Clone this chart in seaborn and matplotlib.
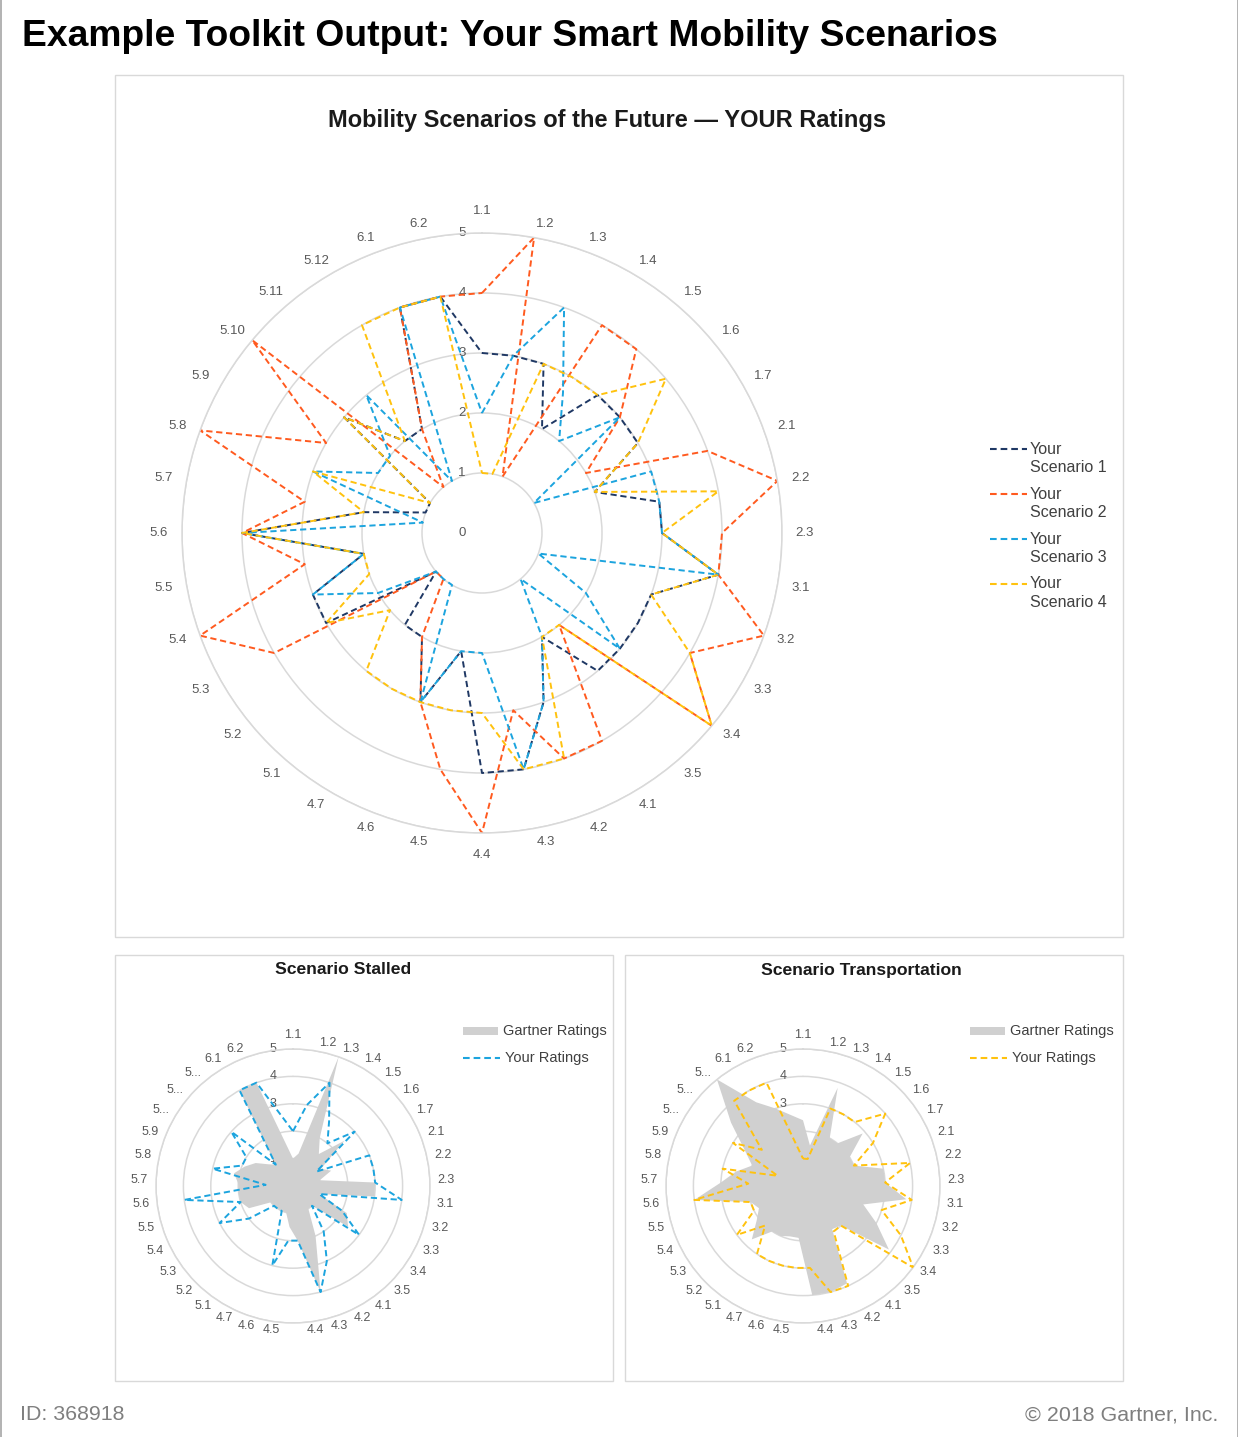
import numpy as np
import pandas as pd
import matplotlib
matplotlib.use("Agg")
import matplotlib.pyplot as plt
import matplotlib.transforms as mtransforms
from matplotlib.lines import Line2D
from matplotlib.patches import Rectangle
import seaborn as sns

sns.set_theme(style="white")
plt.rcParams["font.family"] = ["Liberation Sans", "DejaVu Sans"]

# ---------------------------------------------------------------- data
categories = ["1.1", "1.2", "1.3", "1.4", "1.5", "1.6", "1.7",
              "2.1", "2.2", "2.3",
              "3.1", "3.2", "3.3", "3.4", "3.5",
              "4.1", "4.2", "4.3", "4.4", "4.5", "4.6", "4.7",
              "5.1", "5.2", "5.3", "5.4", "5.5", "5.6", "5.7", "5.8", "5.9",
              "5.10", "5.11", "5.12",
              "6.1", "6.2"]
# the small charts carry one extra, unlabelled slot after 6.2
small_labels = [c if c not in ("5.10", "5.11", "5.12") else "5..." for c in categories] + [""]

scenario_1 = [3, 3, 3, 2, 3, 3, 3, 2, 3, 3, 4, 3, 3, 3, 3, 2, 3, 4, 4, 2, 3, 2,
              2, 1, 3, 3, 2, 4, 2, 1, 1, 3, 2, 2, 4, 4]
scenario_2 = [4, 5, 1, 4, 4, 3, 2, 4, 5, 4, 4, 5, 4, 5, 2, 4, 4, 3, 5, 4, 3, 2,
              1, 1, 4, 5, 3, 4, 3, 5, 3, 5, 1, 2, 4, 4]
scenario_3 = [2, 3, 4, 2.7, 2, 3, 1, 3, 3, 3, 4, 1, 2, 3, 1, 2, 3, 4, 2, 2, 3, 1,
              1, 1, 2, 3, 2, 4, 1, 3, 2, 2, 3, 1, 4, 4]
scenario_4 = [1, 1, 3, 3, 3, 4, 3, 2, 4, 3, 4, 3, 4, 5, 2, 2, 4, 4, 3, 3, 3, 3,
              3, 2, 3, 2, 2, 4, 2, 3, 1, 3, 2, 4, 4, 4]

gartner_stalled = [1, 1.2, 5, 2, 1.5, 2.5, 1.2, 1.5, 1, 3, 3, 1, 2.2, 2.5, 1, 1,
                   2, 4, 2, 1.5, 1, 1, 1, 1, 1, 1.8, 2, 2, 2, 2.2, 1.9, 1.6, 1.2,
                   1, 4, 4]
gartner_transport = [2.4, 1.5, 3.8, 2, 2, 2.9, 2, 2, 3, 3, 3.8, 2.3, 3, 3.9, 2,
                      1.9, 3.9, 4, 4, 1.9, 1.9, 2, 2, 2.7, 2.1, 1.8, 2, 4, 3, 2.5,
                      2, 2.5, 3.5, 5, 3.5, 3]

series_names = ["Your Scenario 1", "Your Scenario 2", "Your Scenario 3", "Your Scenario 4"]
series_colors = ["#1F3864", "#FF5A1F", "#1CA4DE", "#FFC20E"]

GRID = "#D9D9D9"
LABEL = "#595959"
DASH = (0, (3.2, 1.9))

W, H = 1238, 1437
fig = plt.figure(figsize=(W / 100, H / 100), dpi=100)
fig.patch.set_facecolor("white")


def spoke_angles(n):
    return np.deg2rad(np.arange(n) * 360.0 / n)


def closed(values):
    values = list(values)
    return values + values[:1]


def polar_axes(cx, cy, r):
    return fig.add_axes([(cx - r) / W, 1 - (cy + r) / H, 2 * r / W, 2 * r / H],
                        projection="polar")


def style_radar(ax, theta, labels, label_rx, label_ry, side_pad, end_pad, tick_size,
                rlabel_dx):
    ax.set_theta_zero_location("N")
    ax.set_theta_direction(-1)
    ax.set_ylim(0, 5)
    ax.set_yticks([1, 2, 3, 4, 5])
    ax.set_yticklabels([])
    ax.set_xticks([])
    ax.yaxis.grid(True, color=GRID, lw=1.1)
    ax.spines["polar"].set_color(GRID)
    ax.spines["polar"].set_linewidth(1.1)
    ax.set_facecolor("none")
    # category labels sit just outside the outer ring, pushed sideways away from the axis
    for t, lab in zip(theta, labels):
        s, c = np.sin(t), np.cos(t)
        side = np.sign(s) if abs(s) > 1e-6 else 0.0
        dx = label_rx * s + side_pad * side
        dy = label_ry * c + (end_pad * np.sign(c) if side == 0 else 0.0)
        place = mtransforms.offset_copy(ax.transData, fig=fig, x=dx, y=dy, units="dots")
        ax.text(0, 0, lab, transform=place, ha="center", va="center", fontsize=tick_size,
                color=LABEL, clip_on=False)
    shift = mtransforms.offset_copy(ax.transData, fig=fig, x=rlabel_dx, y=0, units="dots")
    for v in range(6):
        ax.text(0, v, str(v), transform=shift, ha="center", va="center",
                fontsize=tick_size, color=LABEL, clip_on=False, zorder=1)


# ---------------------------------------------------------------- frames & titles
def frame(x0, y0, x1, y1, color=GRID):
    fig.add_artist(Rectangle((x0 / W, 1 - y1 / H), (x1 - x0) / W, (y1 - y0) / H,
                             transform=fig.transFigure, fill=False, ec=color, lw=1.0))


frame(115, 75, 1123, 937)
frame(115, 955, 613, 1381)
frame(625, 955, 1123, 1381)
fig.add_artist(Line2D([0.5 / W, 0.5 / W], [0, 1], transform=fig.transFigure, color="#A6A6A6", lw=1.2))
fig.add_artist(Line2D([1 - 0.5 / W, 1 - 0.5 / W], [0, 1], transform=fig.transFigure, color="#A6A6A6", lw=1.2))

fig.text(22 / W, 1 - 37 / H, "Example Toolkit Output: Your Smart Mobility Scenarios",
         ha="left", va="center", fontsize=26.8, fontweight="bold", color="black")
fig.text(607 / W, 1 - 121 / H, "Mobility Scenarios of the Future \u2014 YOUR Ratings",
         ha="center", va="center", fontsize=17, fontweight="bold", color="#1A1A1A")
fig.text(343 / W, 1 - 970 / H, "Scenario Stalled", ha="center", va="center",
         fontsize=12.6, fontweight="bold", color="#1A1A1A")
fig.text(861 / W, 1 - 970 / H, "Scenario Transportation", ha="center", va="center",
         fontsize=12.6, fontweight="bold", color="#1A1A1A")
fig.text(20 / W, 1 - 1415 / H, "ID: 368918", ha="left", va="center",
         fontsize=15.4, color="#7F7F7F")
fig.text(1218 / W, 1 - 1415 / H, "\u00a9 2018 Gartner, Inc.", ha="right", va="center",
         fontsize=15.4, color="#7F7F7F")

# ---------------------------------------------------------------- main radar
theta_main = spoke_angles(len(categories))
theta_main_closed = np.append(theta_main, 2 * np.pi)

ax = polar_axes(482, 533, 300)
style_radar(ax, theta_main, categories, 314, 314, 9, 8, 9.5, -20)
for name, values, color in zip(series_names,
                               [scenario_1, scenario_2, scenario_3, scenario_4],
                               series_colors):
    sns.lineplot(x=theta_main_closed, y=closed(values), ax=ax, sort=False, estimator=None,
                 color=color, linestyle=DASH, linewidth=1.4)
ax.set_xlabel("")
ax.set_ylabel("")
ax.set_ylim(0, 5)

for k, (name, color) in enumerate(zip(series_names, series_colors)):
    y = 449 + 45 * k
    fig.add_artist(Line2D([990 / W, 1027 / W], [1 - y / H, 1 - y / H],
                          transform=fig.transFigure, color=color, lw=1.5, linestyle=DASH))
    first, second = name.split(" ", 1)
    fig.text(1030 / W, 1 - y / H, first, ha="left", va="center", fontsize=11.5, color="#404040")
    fig.text(1030 / W, 1 - (y + 18.5) / H, second, ha="left", va="center",
             fontsize=11.5, color="#404040")

# ---------------------------------------------------------------- small radars
theta_small = spoke_angles(len(small_labels))
theta_small_rated = np.append(theta_small[:len(categories)], 2 * np.pi)

panels = [
    (293, gartner_stalled, scenario_3, series_colors[2], 463),
    (803, gartner_transport, scenario_4, series_colors[3], 970),
]
for cx, gartner, yours, color, lx in panels:
    sax = polar_axes(cx, 1186, 137)
    style_radar(sax, theta_small, small_labels, 143.5, 145, 10, 6, 9, -20)
    sax.fill(theta_small_rated, closed(gartner), color="#D0D0D0", lw=0, zorder=2)
    sns.lineplot(x=theta_small_rated, y=closed(yours), ax=sax, sort=False, estimator=None,
                 color=color, linestyle=DASH, linewidth=1.4, zorder=3)
    sax.set_xlabel("")
    sax.set_ylabel("")
    sax.set_ylim(0, 5)

    fig.add_artist(Rectangle((lx / W, 1 - 1035 / H), 35 / W, 8 / H,
                             transform=fig.transFigure, color="#D0D0D0", lw=0))
    fig.text((lx + 40) / W, 1 - 1031 / H, "Gartner Ratings", ha="left", va="center",
             fontsize=10.5, color="#404040")
    fig.add_artist(Line2D([lx / W, (lx + 37) / W], [1 - 1058 / H, 1 - 1058 / H],
                          transform=fig.transFigure, color=color, lw=1.5, linestyle=DASH))
    fig.text((lx + 42) / W, 1 - 1058 / H, "Your Ratings", ha="left", va="center",
             fontsize=10.5, color="#404040")

fig.savefig("out.png", dpi=100, facecolor="white")
